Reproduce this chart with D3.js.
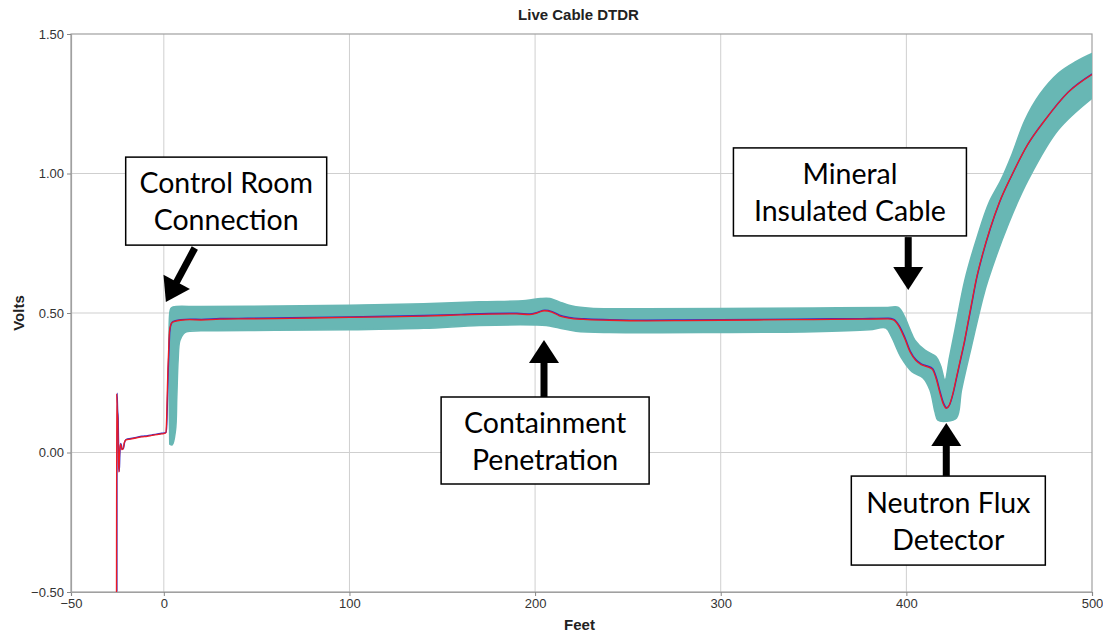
<!DOCTYPE html>
<html>
<head>
<meta charset="utf-8">
<script src="https://cdn.jsdelivr.net/npm/d3@7"></script>
<style>
  body { margin: 0; background: #fff; }
  svg { font-family: "Liberation Sans", Arial, sans-serif; }
</style>
</head>
<body>
<svg id="chart" width="1103" height="634"></svg>
<script>
// axis ticks
const xTicks = [-50, 0, 100, 200, 300, 400, 500];
const yTicks = [-0.5, 0, 0.5, 1.0, 1.5];
const xGrid = [0, 100, 200, 300, 400];
const yGrid = [0, 0.5, 1.0];

// measured trace (feet, volts)
const traceFeet = [-25.5, -25.4, -25.1, -24.8, -24.5, -24.2, -23.9, -23.5, -23.1, -22.6, -22.0, -21.3, -20.4,
  -18, -15, -12, -9, -6.5, -4.8, -2, 0, 1.0, 1.4, 1.8, 2.2, 2.6, 3.0, 3.6, 4.5, 6, 9, 14, 20, 30, 45, 60,
  80, 100, 120, 140, 160, 175, 190, 197, 201, 205, 209, 213, 218, 226, 240, 260, 280, 300, 320, 340, 360,
  380, 390, 393, 396, 399, 402, 405, 408, 411, 414, 416, 418, 420, 421.5, 423, 425, 427, 429, 431, 433,
  435, 437.6, 441, 445, 450, 456.5, 465, 474.5, 487, 500];
const traceVolts = [-0.50, 0.21, 0.15, 0.12, -0.02, -0.07, -0.01, 0.03, 0.025, 0.01, 0.012, 0.035, 0.045,
  0.048, 0.052, 0.056, 0.058, 0.061, 0.063, 0.066, 0.068, 0.07, 0.10, 0.20, 0.30, 0.37, 0.43, 0.455, 0.466,
  0.47, 0.474, 0.476, 0.475, 0.478, 0.479, 0.48, 0.482, 0.484, 0.486, 0.489, 0.493, 0.496, 0.497, 0.494,
  0.50, 0.508, 0.503, 0.49, 0.482, 0.477, 0.474, 0.472, 0.473, 0.474, 0.475, 0.476, 0.477, 0.478, 0.479,
  0.475, 0.452, 0.41, 0.36, 0.33, 0.315, 0.308, 0.298, 0.265, 0.215, 0.172, 0.158, 0.168, 0.21, 0.27,
  0.33, 0.39, 0.46, 0.53, 0.62, 0.71, 0.80, 0.895, 0.99, 1.10, 1.19, 1.29, 1.355];

// tolerance envelope, upper edge (feet, volts)
const bandUpperFeet = [3.2, 3.2, 3.8, 5, 20, 60, 100, 140, 170, 195, 203, 208, 213, 220, 230, 260, 300, 350,
  390, 395.7, 399, 402, 404.6, 410, 416, 418.5, 420.8, 423.2, 426.2, 431.5, 438.5, 444.5, 451, 457, 463.8,
  472, 482, 491, 500];
const bandUpperVolts = [0.03, 0.50, 0.516, 0.522, 0.523, 0.525, 0.528, 0.533, 0.54, 0.545, 0.552, 0.552,
  0.54, 0.525, 0.517, 0.515, 0.516, 0.518, 0.52, 0.52, 0.487, 0.44, 0.403, 0.367, 0.343, 0.31, 0.26, 0.34,
  0.44, 0.618, 0.78, 0.895, 0.977, 1.07, 1.19, 1.285, 1.36, 1.40, 1.43];

// tolerance envelope, lower edge (feet, volts)
const bandLowerFeet = [3.2, 4.5, 6.3, 7.0, 7.7, 8.6, 10.5, 12.2, 20, 60, 100, 140, 170, 200, 206, 213, 222,
  240, 300, 350, 380, 389, 392, 397, 403, 409, 412.7, 415.4, 417, 421.5, 427, 429.7, 435, 441.4, 444, 455,
  465.6, 481.7, 500];
const bandLowerVolts = [0.03, 0.027, 0.08, 0.20, 0.33, 0.40, 0.425, 0.433, 0.436, 0.438, 0.44, 0.445, 0.455,
  0.457, 0.455, 0.446, 0.435, 0.43, 0.43, 0.433, 0.44, 0.446, 0.415, 0.343, 0.29, 0.267, 0.224, 0.146,
  0.116, 0.112, 0.124, 0.224, 0.379, 0.558, 0.618, 0.82, 0.977, 1.156, 1.27];

// callouts: text, box centre (feet, volts), box size in px, arrow tail/tip (feet, volts)
const calloutLines = [["Control Room", "Connection"], ["Mineral", "Insulated Cable"],
  ["Containment", "Penetration"], ["Neutron Flux", "Detector"]];
const calloutCentres = [[33.6, 0.901], [369.6, 0.934], [205.4, 0.043], [422.6, -0.244]];
const calloutSizes = [[201, 88], [233, 88], [208, 87], [194, 89]];
const arrowTails = [[16.7, 0.733], [401, 0.772], [204.8, 0.199], [421.5, -0.084]];
const arrowTips = [[1.1, 0.539], [401, 0.582], [204.8, 0.403], [421.5, 0.106]];

const width = 1103, height = 634;
const margin = {top: 34, right: 11, bottom: 42, left: 71};
const innerW = width - margin.left - margin.right;
const innerH = height - margin.top - margin.bottom;

const x = d3.scaleLinear().domain([-50, 500]).range([0, innerW]);
const y = d3.scaleLinear().domain([-0.5, 1.5]).range([innerH, 0]);

const svg = d3.select('#chart');

svg.append('text')
  .attr('x', margin.left + innerW / 2 - 3).attr('y', 20)
  .attr('text-anchor', 'middle')
  .attr('font-size', 15).attr('font-weight', 'bold').attr('fill', '#222')
  .text('Live Cable DTDR');

const g = svg.append('g').attr('transform', `translate(${margin.left},${margin.top})`);

g.append('defs').append('clipPath').attr('id', 'plot-clip')
  .append('rect').attr('width', innerW).attr('height', innerH);

// grid
g.append('g').selectAll('line').data(xGrid).join('line')
  .attr('x1', d => x(d)).attr('x2', d => x(d)).attr('y1', 0).attr('y2', innerH)
  .attr('stroke', '#cfcfcf').attr('stroke-width', 1);
g.append('g').selectAll('line').data(yGrid).join('line')
  .attr('y1', d => y(d)).attr('y2', d => y(d)).attr('x1', 0).attr('x2', innerW)
  .attr('stroke', '#cfcfcf').attr('stroke-width', 1);

// frame
g.append('rect').attr('width', innerW).attr('height', innerH)
  .attr('fill', 'none').attr('stroke', '#a0a0a0').attr('stroke-width', 1.2);

const plot = g.append('g').attr('clip-path', 'url(#plot-clip)');

// envelope polygon: upper edge left->right, lower edge right->left
const upper = bandUpperFeet.map((f, i) => [f, bandUpperVolts[i]]);
const lower = bandLowerFeet.map((f, i) => [f, bandLowerVolts[i]]).reverse();
const edgeLine = d3.line().x(d => x(d[0])).y(d => y(d[1])).curve(d3.curveCatmullRom.alpha(0.5));
plot.append('path')
  .attr('d', edgeLine(upper) + edgeLine(lower).replace(/^M/, 'L') + 'Z')
  .attr('fill', '#68b7b4').attr('stroke', '#68b7b4').attr('stroke-width', 1.5)
  .attr('stroke-linejoin', 'round');

const trace = traceFeet.map((f, i) => [f, traceVolts[i]]);
const traceLine = d3.line().x(d => x(d[0])).y(d => y(d[1])).curve(d3.curveMonotoneX);
plot.append('path')
  .attr('d', traceLine(trace))
  .attr('transform', 'translate(0.4,-0.6)')
  .attr('fill', 'none').attr('stroke', '#3a2fc4').attr('stroke-width', 1.4);
plot.append('path')
  .attr('d', traceLine(trace))
  .attr('fill', 'none').attr('stroke', '#ee1b24').attr('stroke-width', 1.3);

// axes
const xAxis = g.append('g').attr('transform', `translate(0,${innerH})`)
  .call(d3.axisBottom(x).tickValues(xTicks).tickFormat(d3.format('d')).tickSize(4).tickPadding(3));
const yAxis = g.append('g')
  .call(d3.axisLeft(y).tickValues(yTicks).tickFormat(d3.format('.2f')).tickSize(4).tickPadding(3));
[xAxis, yAxis].forEach(a => {
  a.select('.domain').attr('stroke', '#a0a0a0').attr('stroke-width', 1.2);
  a.selectAll('.tick line').attr('stroke', '#888');
  a.selectAll('.tick text').attr('font-size', 13).attr('fill', '#333')
    .attr('font-family', '"Liberation Sans", Arial, sans-serif');
});

svg.append('text')
  .attr('x', margin.left + innerW / 2 - 2).attr('y', 630)
  .attr('text-anchor', 'middle')
  .attr('font-size', 15).attr('font-weight', 'bold').attr('fill', '#222')
  .text('Feet');
svg.append('text')
  .attr('transform', `translate(24,${margin.top + y(0.5)}) rotate(-90)`)
  .attr('text-anchor', 'middle')
  .attr('font-size', 15).attr('font-weight', 'bold').attr('fill', '#222')
  .text('Volts');

// arrows
const ann = g.append('g');
arrowTails.forEach((t, i) => {
  const x0 = x(t[0]), y0 = y(t[1]);
  const x1 = x(arrowTips[i][0]), y1 = y(arrowTips[i][1]);
  const len = Math.hypot(x1 - x0, y1 - y0);
  const ux = (x1 - x0) / len, uy = (y1 - y0) / len;
  const headLen = 23, headHalf = 15;
  const bx = x1 - ux * headLen, by = y1 - uy * headLen;
  ann.append('line')
    .attr('x1', x0).attr('y1', y0).attr('x2', bx + ux).attr('y2', by + uy)
    .attr('stroke', '#000').attr('stroke-width', 7);
  ann.append('path')
    .attr('d', `M${x1},${y1}L${bx - uy * headHalf},${by + ux * headHalf}L${bx + uy * headHalf},${by - ux * headHalf}Z`)
    .attr('fill', '#000');
});

// callout boxes
calloutCentres.forEach((c, i) => {
  const cx = x(c[0]), cy = y(c[1]);
  const [w, h] = calloutSizes[i];
  ann.append('rect')
    .attr('x', cx - w / 2).attr('y', cy - h / 2).attr('width', w).attr('height', h)
    .attr('fill', '#fff').attr('stroke', '#000').attr('stroke-width', 1.5);
  ann.append('text')
    .attr('x', cx).attr('y', cy)
    .attr('text-anchor', 'middle')
    .attr('font-family', 'Lato, "Open Sans", sans-serif').attr('font-size', 28.5).attr('fill', '#000')
    .selectAll('tspan').data(calloutLines[i]).join('tspan')
    .attr('x', cx).attr('dy', (d, j) => j === 0 ? -8 : 37)
    .text(d => d);
});
</script>
</body>
</html>
